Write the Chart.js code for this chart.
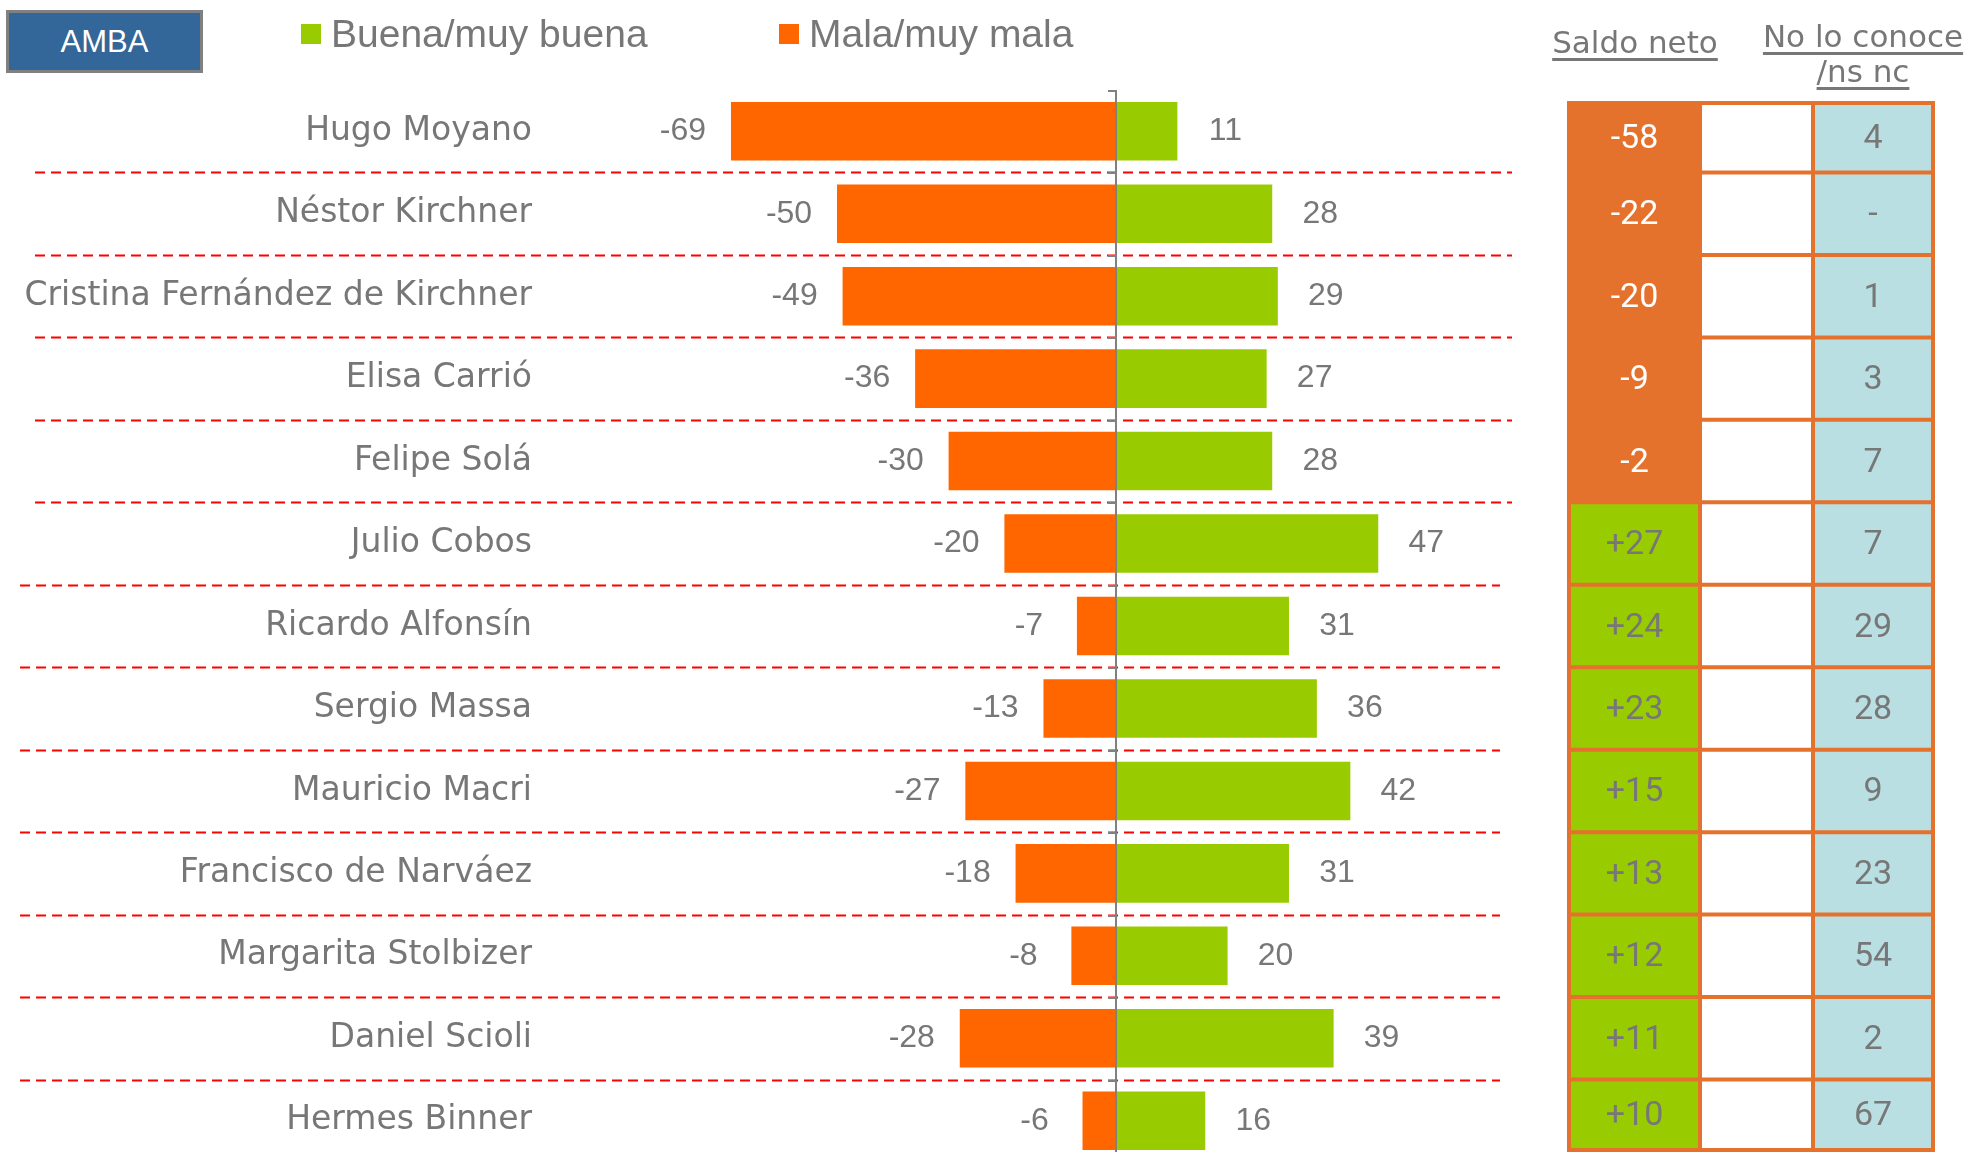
<!DOCTYPE html>
<html>
<head>
<meta charset="utf-8">
<script src="https://cdn.jsdelivr.net/npm/chart.js@4.4.1/dist/chart.umd.min.js"></script>
<style>
    html, body { margin: 0; padding: 0; background: #fff; overflow: hidden; }
    .lienzo { position: absolute; left: 0; top: 0; width: 1964px; height: 1162px; }
    .caja-amba {
        position: absolute; left: 6px; top: 10px; width: 191px; height: 57px;
        background: #336699; border: 3px solid #808080;
        color: #fff; font: 31px 'Liberation Sans Narrow', 'Liberation Sans', sans-serif;
        display: flex; align-items: center; justify-content: center;
    }
    .leyenda { position: absolute; top: 14px; height: 40px; display: flex; align-items: center;
        font: 39px 'Liberation Sans Narrow', 'Liberation Sans', sans-serif; color: #777; }
    .leyenda .cuadro { width: 20px; height: 20px; margin-right: 10px; }
    .cabecera { position: absolute; color: #777; font: 31px 'DejaVu Sans', sans-serif;
        text-decoration: underline; text-underline-offset: 5px; text-align: center; line-height: 35px; }
</style>
</head>
<body>
<div class="lienzo"><canvas id="imagenChart" width="1964" height="1162"></canvas></div>
<div class="caja-amba">AMBA</div>
<div class="leyenda" style="left:301px"><span class="cuadro" style="background:#99CC00"></span>Buena/muy buena</div>
<div class="leyenda" style="left:779px"><span class="cuadro" style="background:#FF6600"></span>Mala/muy mala</div>
<div class="cabecera" style="left:1535px; top:25px; width:200px;">Saldo neto</div>
<div class="cabecera" style="left:1758px; top:19px; width:210px;">No lo conoce<br>/ns nc</div>

<script>
const nombres = [
    'Hugo Moyano', 'Néstor Kirchner', 'Cristina Fernández de Kirchner', 'Elisa Carrió',
    'Felipe Solá', 'Julio Cobos', 'Ricardo Alfonsín', 'Sergio Massa', 'Mauricio Macri',
    'Francisco de Narváez', 'Margarita Stolbizer', 'Daniel Scioli', 'Hermes Binner'
];
const buena = [11, 28, 29, 27, 28, 47, 31, 36, 42, 31, 20, 39, 16];
const mala = [-69, -50, -49, -36, -30, -20, -7, -13, -27, -18, -8, -28, -6];
const saldoNeto = [-58, -22, -20, -9, -2, 27, 24, 23, 15, 13, 12, 11, 10];
const noConoce = [4, null, 1, 3, 7, 7, 29, 28, 9, 23, 54, 2, 67];

const COLORES = {
    verde: '#99CC00',
    naranja: '#FF6600',
    naranjaTabla: '#E4722C',
    celeste: '#B9DFE3',
    gris: '#777777',
    eje: '#808080',
    rojo: '#FF0000'
};

// columnas de la tabla de la derecha
const TABLA = { izq: 1569, col1: 1700, col2: 1813, der: 1933, arriba: 103, abajo: 1150 };

const decoracion = {
    id: 'decoracion',
    beforeDatasetsDraw(chart) {
        const ctx = chart.ctx;
        const y = chart.scales.y;
        const mitad = (y.getPixelForValue(1) - y.getPixelForValue(0)) / 2;
        ctx.save();
        ctx.strokeStyle = COLORES.rojo;
        ctx.lineWidth = 2;
        ctx.setLineDash([10, 6]);
        for (let i = 0; i < nombres.length - 1; i++) {
            const py = Math.round(y.getPixelForValue(i) + mitad) + 0.5;
            ctx.beginPath();
            ctx.moveTo(i < 5 ? 35 : 20, py);
            ctx.lineTo(i < 5 ? 1512 : 1500, py);
            ctx.stroke();
        }
        ctx.restore();
    },
    afterDatasetsDraw(chart) {
        const ctx = chart.ctx;
        const x = chart.scales.x;
        const y = chart.scales.y;
        const area = chart.chartArea;
        const mitad = (y.getPixelForValue(1) - y.getPixelForValue(0)) / 2;
        const cero = Math.round(x.getPixelForValue(0));

        // eje vertical en cero
        ctx.save();
        ctx.strokeStyle = COLORES.eje;
        ctx.lineWidth = 2;
        ctx.beginPath();
        ctx.moveTo(cero, area.top);
        ctx.lineTo(cero, area.bottom);
        for (let i = 0; i < nombres.length; i++) {
            const py = Math.round(y.getPixelForValue(i) - mitad) + 1;
            ctx.moveTo(cero - 8, py);
            ctx.lineTo(cero, py);
        }
        ctx.stroke();

        // etiquetas de valores
        ctx.fillStyle = COLORES.gris;
        ctx.font = "32px 'Liberation Sans Narrow', 'Liberation Sans', sans-serif";
        ctx.textAlign = 'center';
        ctx.textBaseline = 'middle';
        chart.data.datasets.forEach((ds, d) => {
            chart.getDatasetMeta(d).data.forEach((el, i) => {
                const desplaz = ds.data[i] < 0 ? -48 : 48;
                ctx.fillText(String(ds.data[i]), el.x + desplaz, el.y);
            });
        });

        // tabla saldo neto / no lo conoce
        const filas = nombres.map((_, i) => ({
            top: Math.max(TABLA.arriba, y.getPixelForValue(i) - mitad),
            bottom: Math.min(TABLA.abajo, y.getPixelForValue(i) + mitad)
        }));
        filas.forEach((f, i) => {
            ctx.fillStyle = saldoNeto[i] < 0 ? COLORES.naranjaTabla : COLORES.verde;
            ctx.fillRect(TABLA.izq, f.top, TABLA.col1 - TABLA.izq, f.bottom - f.top);
            ctx.fillStyle = COLORES.celeste;
            ctx.fillRect(TABLA.col2, f.top, TABLA.der - TABLA.col2, f.bottom - f.top);
        });
        ctx.strokeStyle = COLORES.naranjaTabla;
        ctx.lineWidth = 4;
        ctx.strokeRect(TABLA.izq, TABLA.arriba, TABLA.der - TABLA.izq, TABLA.abajo - TABLA.arriba);
        ctx.beginPath();
        ctx.moveTo(TABLA.col1, TABLA.arriba);
        ctx.lineTo(TABLA.col1, TABLA.abajo);
        ctx.moveTo(TABLA.col2, TABLA.arriba);
        ctx.lineTo(TABLA.col2, TABLA.abajo);
        filas.slice(1).forEach(f => {
            ctx.moveTo(TABLA.izq, f.top);
            ctx.lineTo(TABLA.der, f.top);
        });
        ctx.stroke();

        ctx.font = "34px Roboto, sans-serif";
        filas.forEach((f, i) => {
            const centro = (f.top + f.bottom) / 2 + 2;
            const s = saldoNeto[i];
            ctx.fillStyle = s < 0 ? '#FFFFFF' : COLORES.gris;
            ctx.fillText((s > 0 ? '+' : '') + s, (TABLA.izq + TABLA.col1) / 2, centro);
            ctx.fillStyle = COLORES.gris;
            ctx.fillText(noConoce[i] === null ? '-' : String(noConoce[i]), (TABLA.col2 + TABLA.der) / 2, centro);
        });
        ctx.restore();
    }
};

document.addEventListener('DOMContentLoaded', function() {
    const ctx = document.getElementById('imagenChart').getContext('2d');
    new Chart(ctx, {
        type: 'bar',
        data: {
            labels: nombres,
            datasets: [{
                label: 'Mala/muy mala',
                data: mala,
                backgroundColor: COLORES.naranja,
                barPercentage: 0.71,
                categoryPercentage: 1
            },
            {
                label: 'Buena/muy buena',
                data: buena,
                backgroundColor: COLORES.verde,
                barPercentage: 0.71,
                categoryPercentage: 1
            }]
        },
        options: {
            indexAxis: 'y',
            responsive: false,
            animation: false,
            layout: { padding: { top: 90, right: 290, left: 0, bottom: 0 } },
            scales: {
                x: { display: false, stacked: true, min: -100, max: 100 },
                y: {
                    stacked: true,
                    grid: { display: false, drawTicks: false },
                    border: { display: false },
                    ticks: { color: COLORES.gris, padding: 26, font: { family: 'DejaVu Sans', size: 33 } },
                    afterFit: (escala) => {
                        escala.width = 558;
                        escala.paddingTop = 0;
                        escala.paddingBottom = 0;
                    }
                }
            },
            plugins: { legend: { display: false }, tooltip: { enabled: false } }
        },
        plugins: [decoracion]
    });
});
</script>
</body>
</html>
